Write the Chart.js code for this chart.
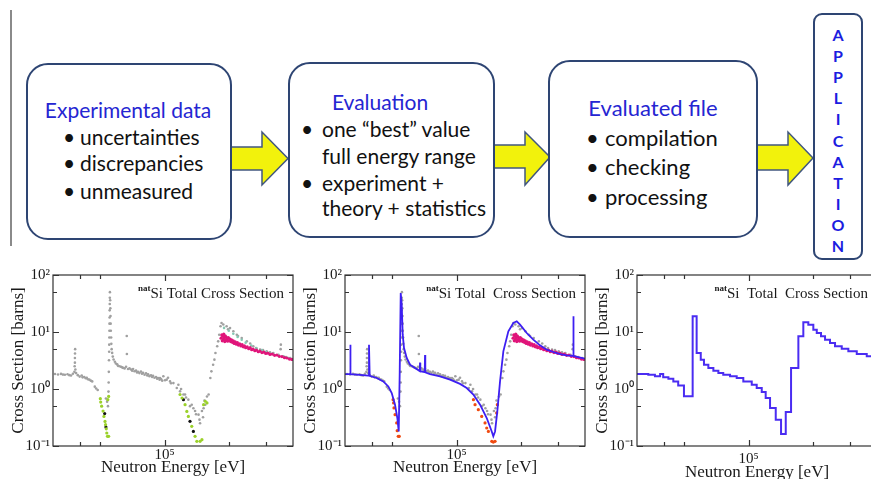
<!DOCTYPE html>
<html>
<head>
<meta charset="utf-8">
<script src="https://cdn.jsdelivr.net/npm/chart.js@4.4.0/dist/chart.umd.min.js"></script>
<style>
  body { margin: 0; width: 871px; height: 479px; overflow: hidden; background: #fff; position: relative; font-family: Lato, "Open Sans", sans-serif; }
  .box { position: absolute; box-sizing: border-box; border: 2.5px solid #2e4573; border-radius: 22px; background: #fff; }
  .t { position: absolute; white-space: nowrap; line-height: 26px; font-size: 21px; color: #111; }
  .h { color: #2525d2; }
  .big { font-size: 22px; }
  .app { position: absolute; left: 813px; top: 13px; width: 50px; height: 247px; box-sizing: border-box; border: 2.5px solid #2e4573; border-radius: 9px; background: #fff; }
  .letter { position: absolute; left: 813px; width: 50px; text-align: center; font-weight: bold; font-size: 16px; line-height: 18px; color: #1c1ce0; }
  canvas { position: absolute; }
</style>
</head>
<body>
<div style="position:absolute;left:10px;top:10px;width:2px;height:236px;background:#8a8a8a"></div>

<svg width="871" height="260" style="position:absolute;left:0;top:0">
  <g fill="#f2f20c" stroke="#41577f" stroke-width="1.5">
    <polygon points="228,147 262,147 262,132 288,158.5 262,185 262,170 228,170"/>
    <polygon points="491,145 525,145 525,132 550,157 525,185 525,168 491,168"/>
    <polygon points="754,145 788,145 788,132 813,158 788,185 788,170 754,170"/>
  </g>
</svg>

<div class="box" style="left:26px;top:63px;width:206px;height:177px"></div>
<div class="t h" style="left:28px;top:97px;width:200px;text-align:center">Experimental data</div>
<div class="t" style="left:63px;top:124px">•</div><div class="t" style="left:80px;top:124px">uncertainties</div>
<div class="t" style="left:63px;top:150px">•</div><div class="t" style="left:80px;top:150px">discrepancies</div>
<div class="t" style="left:63px;top:178px">•</div><div class="t" style="left:80px;top:178px">unmeasured</div>

<div class="box" style="left:288px;top:62px;width:207px;height:176px"></div>
<div class="t h" style="left:280px;top:89px;width:200px;text-align:center">Evaluation</div>
<div class="t" style="left:301px;top:116px">•</div><div class="t" style="left:322px;top:116px">one “best” value</div>
<div class="t" style="left:322px;top:143px">full energy range</div>
<div class="t" style="left:301px;top:170px">•</div><div class="t" style="left:322px;top:170px">experiment +</div>
<div class="t" style="left:322px;top:195px">theory + statistics</div>

<div class="box" style="left:548px;top:60px;width:210px;height:178px"></div>
<div class="t h big" style="left:553px;top:95px;width:200px;text-align:center">Evaluated file</div>
<div class="t big" style="left:586px;top:125px">•</div><div class="t big" style="left:605px;top:125px">compilation</div>
<div class="t big" style="left:586px;top:154px">•</div><div class="t big" style="left:605px;top:154px">checking</div>
<div class="t big" style="left:586px;top:184px">•</div><div class="t big" style="left:605px;top:184px">processing</div>

<div class="app"></div>
<div id="letters"></div>

<canvas id="c1" width="300" height="217" style="left:0;top:262px"></canvas>
<canvas id="c2" width="300" height="217" style="left:292px;top:262px"></canvas>
<div style="position:absolute;left:584px;top:262px;width:287px;height:217px;overflow:hidden">
  <canvas id="c3" width="300" height="222" style="left:0;top:0"></canvas>
</div>

<script>
// --- data (energies in eV, cross sections in barns) ---
const xMajor = [1e5];
const xLabels = ['10⁵'];
const xMinor = [4e4, 5e4, 2e5, 3e5];
const yMajor = [0.1, 1, 10, 100];
const yLabels = ['10⁻¹', '10⁰', '10¹', '10²'];
const yMinor = [0.5, 5, 50];

// measured total cross section (grey points)
const expE = [30650, 31670, 32700, 33400, 34100, 35100, 35800, 36450, 37200, 37800, 37900, 38000, 38000, 38050, 38100, 38200, 38500,
  39200, 40000, 40900, 41300, 42000, 42700, 43200, 43700, 44400, 45100, 45800, 47100, 47800, 48600, 53100, 53800, 54300,
  54600, 54700, 54800, 54900, 55000, 55050, 55100, 55150, 55200, 55250, 55300, 55350, 55400, 55450, 55600, 55700, 55800, 55900,
  56000, 56200, 56300, 56500, 56800, 57200, 57700, 58500, 59100, 60000, 60500, 61500, 62500, 63200, 63900, 65000, 66000, 66500,
  66600, 67400, 68500, 69600, 70500, 71200, 72300, 73500, 74300, 75100, 76200, 77500, 78400, 79300, 80600, 81900, 83000, 83700,
  85000, 86400, 87500, 88300, 89700, 91200, 92300, 93200, 94800, 95200, 96300, 97500, 98700, 100500, 102300, 103800, 106100,
  107200, 110000, 114100, 116100, 118200, 119500, 122600, 124800, 126100, 129300, 131600, 134100, 136500, 139000, 140500, 144300,
  145800, 146700, 149700, 151500, 152400, 153900, 155200, 158100, 160900, 163900, 165800, 168900, 171300, 173200, 176500, 178400,
  180400, 183000, 185000, 188500, 195400, 198400, 202700, 210100, 218100, 221000, 230000, 243000, 252000, 260600, 268400, 280300,
  289400, 301000, 312000, 323600, 341900, 350000, 350800, 360800, 371000, 388000, 399000];
const expXS = [1.83, 1.80, 1.84, 1.79, 1.78, 1.81, 1.75, 1.72, 1.85, 2.0, 2.5, 2.9, 3.5, 4.2, 5.0, 2.2, 1.9,
  1.75, 1.65, 1.72, 1.60, 1.62, 1.55, 1.58, 1.48, 1.46, 1.40, 1.36, 1.10, 1.02, 0.96, 0.68, 0.6, 0.5,
  0.9, 1.3, 2.0, 3.2, 4.5, 6.0, 8.0, 10.5, 14, 18, 24, 31, 40, 50, 36, 26, 19, 14,
  10.5, 8, 6.2, 5.0, 4.3, 3.7, 3.3, 3.0, 2.8, 2.7, 2.55, 2.5, 2.45, 2.4, 2.35, 2.3, 2.45, 8.5,
  4.1, 2.25, 2.3, 2.2, 2.1, 2.25, 2.05, 2.1, 1.95, 2.0, 1.9, 2.02, 1.85, 1.92, 1.78, 1.88, 1.72, 1.82,
  1.68, 1.74, 1.62, 1.7, 1.58, 1.62, 1.52, 1.55, 1.45, 1.56, 1.5, 1.4, 1.67, 1.42, 1.46, 1.58, 1.36,
  1.26, 1.27, 1.04, 1.19, 0.91, 1.0, 0.80, 0.80, 0.71, 0.65, 0.5, 0.53, 0.46, 0.41, 0.36, 0.355,
  0.29, 0.25, 0.41, 0.32, 0.46, 0.63, 0.53, 0.74, 0.80, 1.56, 2.04, 2.67, 3.27, 4.29, 5.61, 6.85,
  8.97, 12.6, 14.4, 13.5, 12.6, 11.2, 11.7, 10.3, 8.97, 8.5, 7.85, 6.85, 6.3, 5.61, 5.25, 4.90,
  4.8, 4.58, 4.4, 4.29, 3.98, 5.0, 6.0, 3.74, 3.63, 3.50, 3.3];

// magenta measurement above 180 keV
const magE = [184000, 185500, 186500, 187500, 188500, 189500, 190500, 191500, 192500, 193500, 194500, 196000, 197500, 199000,
  200500, 202000, 204000, 206000, 208000, 210000, 212000, 214500, 217000, 219500, 222000, 225000, 228000, 231000, 234000,
  237000, 240000, 244000, 248000, 252000, 256000, 260000, 265000, 270000, 275000, 280000, 286000, 292000, 298000, 305000,
  312000, 320000, 328000, 336000, 345000, 355000, 365000, 375000, 385000, 395000];
const magXS = [7.8, 8.9, 7.0, 8.4, 7.4, 9.2, 7.9, 6.8, 8.6, 7.2, 8.1, 7.5, 6.9, 8.0,
  7.1, 7.6, 6.8, 7.3, 6.6, 7.0, 6.3, 6.7, 6.1, 6.5, 5.9, 6.2, 5.7, 6.0, 5.5,
  5.7, 5.3, 5.5, 5.1, 5.3, 4.9, 5.0, 4.7, 4.8, 4.5, 4.6, 4.35, 4.45, 4.2, 4.25,
  4.05, 4.1, 3.9, 3.95, 3.75, 3.7, 3.55, 3.5, 3.35, 3.3];

// teal points along the upper edge (left panel)
const tealE = [190000, 200000, 210000, 220000, 230000, 240000, 255000, 270000, 285000, 300000, 320000, 340000, 360000, 380000, 400000];
const tealXS = [11.8, 10.5, 9.3, 8.2, 7.3, 6.5, 5.8, 5.2, 4.8, 4.45, 4.15, 3.9, 3.7, 3.5, 3.35];

// green / black points in the two minima (left panel)
const greenE = [50000, 50200, 50700, 51500, 52000, 52600, 52900, 53300, 53600, 54000, 54700, 54200, 54700,
  118200, 120800, 124800, 127200, 129300, 134100, 139000, 141700, 146700, 149700, 152400, 155200, 158100];
const greenXS = [0.676, 0.59, 0.50, 0.41, 0.33, 0.27, 0.237, 0.20, 0.169, 0.148, 0.148, 0.65, 0.74,
  0.80, 0.695, 0.53, 0.405, 0.33, 0.221, 0.148, 0.121, 0.121, 0.129, 0.53, 0.61, 0.57];
const blackE = [52400, 53100, 122600, 131600, 136500];
const blackXS = [0.37, 0.215, 0.65, 0.271, 0.18];

// orange points in the two minima (middle panel)
const orangeE = [50400, 50700, 50900, 51500, 52400, 52700, 53300, 53900,
  120000, 122100, 126500, 131200, 136000, 138500, 141000, 146200, 148700, 151500, 154200, 155300];
const orangeXS = [0.65, 0.57, 0.465, 0.355, 0.254, 0.186, 0.148, 0.148,
  0.65, 0.53, 0.434, 0.33, 0.254, 0.207, 0.18, 0.121, 0.117, 0.121, 0.38, 0.53];

// evaluated (pointwise) cross section, middle panel
const evalE = [30000, 31670, 31770, 31870, 34030, 38570, 38870, 39160, 42250, 45360, 47880, 49670, 51470, 52770, 53570, 54150,
  54740, 55330, 55930, 56720, 58410, 60520, 63880, 67200, 67420, 67640, 70920, 71150, 71380, 75080, 83680, 93230, 103800,
  111600, 119900, 128900, 138500, 146200, 148700, 151500, 155300, 159900, 165700, 174900, 184600, 191500, 198400, 213300,
  229000, 246200, 264600, 284300, 305600, 328500, 351600, 352700, 353900, 400000];
const evalXS = [1.83, 1.83, 5.98, 1.82, 1.78, 1.71, 5.98, 1.70, 1.56, 1.36, 1.11, 0.85, 0.53, 0.31, 0.18, 2.0,
  48.3, 30.1, 8.97, 5.24, 3.50, 2.67, 2.33, 2.06, 2.9, 2.05, 1.97, 3.94, 1.96, 1.83, 1.67, 1.46, 1.23,
  1.04, 0.80, 0.53, 0.31, 0.18, 0.148, 0.18, 0.41, 1.36, 4.58, 10.3, 14.4, 15.4, 13.5, 9.6,
  7.33, 5.83, 4.90, 4.46, 4.11, 3.90, 3.80, 18.8, 3.78, 3.40];

// group-wise cross section (lower group bounds), right panel
const groupE = [30000, 33900, 36400, 38500, 39800, 42100, 44400, 46800, 49800, 54700, 57100, 59700, 61800, 64800, 68400,
  72200, 76100, 81900, 88000, 94500, 103500, 109200, 115300, 120300, 126100, 134100, 142000, 149400, 158200, 171200,
  180600, 190600, 201200, 208800, 218600, 228300, 240900, 254300, 273400, 293600, 321500, 358100, 400000];
const groupXS = [1.83, 1.78, 1.67, 1.83, 1.60, 1.52, 1.36, 1.15, 0.745, 18.8, 4.29, 3.27, 2.67, 2.33, 2.10,
  1.91, 1.78, 1.67, 1.56, 1.35, 1.19, 1.04, 0.885, 0.695, 0.465, 0.289, 0.163, 0.394, 2.33, 8.39,
  14.8, 13.4, 11.0, 9.6, 8.4, 7.33, 6.41, 5.61, 5.1, 4.58, 4.11, 3.74, 3.74];

// --- drawing ---
const serif = '"Liberation Serif", "Times New Roman", serif';
const letters = 'APPLICATION';

let html = '';
for (let i = 0; i < letters.length; i++) {
  html += '<div class="letter" style="top:' + (26 + i * 21.1).toFixed(1) + 'px">' + letters[i] + '</div>';
}
document.getElementById('letters').innerHTML = html;

function pts(xs, ys) {
  return xs.map((x, i) => ({x: x, y: ys[i]}));
}

function dots(xs, ys, color, r) {
  return {data: pts(xs, ys), backgroundColor: color, borderWidth: 0, pointRadius: r, showLine: false};
}

function curve(xs, ys, color, w, stepped) {
  return {data: pts(xs, ys), borderColor: color, borderWidth: w, pointRadius: 0, showLine: true, stepped: stepped, tension: 0};
}

// box frame, inner tick marks and the title inside the plot
const frame = {
  id: 'frame',
  afterDatasetsDraw(chart, args, opts) {
    const ctx = chart.ctx, a = chart.chartArea, x = chart.scales.x, y = chart.scales.y;
    ctx.save();
    ctx.strokeStyle = '#333';
    ctx.lineWidth = 1.2;
    ctx.strokeRect(a.left, a.top, a.right - a.left, a.bottom - a.top);
    ctx.beginPath();
    xMajor.concat(xMinor).forEach(v => {
      const p = Math.round(x.getPixelForValue(v)) + 0.5;
      const len = xMajor.includes(v) ? 6 : 4;
      ctx.moveTo(p, a.bottom); ctx.lineTo(p, a.bottom - len);
      ctx.moveTo(p, a.top); ctx.lineTo(p, a.top + len);
    });
    yMajor.concat(yMinor).forEach(v => {
      const p = Math.round(y.getPixelForValue(v)) + 0.5;
      const len = yMajor.includes(v) ? 6 : 4;
      ctx.moveTo(a.left, p); ctx.lineTo(a.left + len, p);
      ctx.moveTo(a.right, p); ctx.lineTo(a.right - len, p);
    });
    ctx.stroke();

    ctx.fillStyle = '#1a1a1a';
    ctx.textAlign = 'right';
    ctx.textBaseline = 'alphabetic';
    ctx.font = '15px ' + serif;
    const rx = a.right - 9;
    ctx.fillText(opts.text, rx, a.top + 23);
    const w = ctx.measureText(opts.text).width;
    ctx.font = 'bold 9px ' + serif;
    ctx.fillText('nat', rx - w, a.top + 16);
    ctx.restore();
  }
};

function makeChart(id, datasets, label, xAxisH, xPad) {
  return new Chart(document.getElementById(id), {
    type: 'scatter',
    data: {datasets: datasets},
    options: {
      responsive: false,
      animation: false,
      devicePixelRatio: 1,
      layout: {padding: {top: 13, right: 7, left: 0, bottom: 0}},
      plugins: {legend: {display: false}, tooltip: {enabled: false}, frame: {text: label}},
      scales: {
        x: {
          type: 'logarithmic', min: 3e4, max: 4e5,
          grid: {display: false, drawTicks: false}, border: {display: false},
          afterBuildTicks: s => { s.ticks = xMajor.map(v => ({value: v})); },
          afterFit: s => { s.height = xAxisH; },
          ticks: {font: {family: serif, size: 15}, color: '#1a1a1a', padding: xPad, maxRotation: 0, autoSkip: false,
            callback: (v, i) => xLabels[i]},
          title: {display: true, text: 'Neutron Energy [eV]', color: '#1a1a1a', font: {family: serif, size: 17},
            padding: {top: 0, bottom: 1}}
        },
        y: {
          type: 'logarithmic', min: 0.1, max: 100,
          grid: {display: false, drawTicks: false}, border: {display: false},
          afterBuildTicks: s => { s.ticks = yMajor.map(v => ({value: v})); },
          afterFit: s => { s.width = 53; },
          ticks: {font: {family: serif, size: 15}, color: '#1a1a1a', padding: 3, autoSkip: false,
            callback: (v, i) => yLabels[i]},
          title: {display: true, text: 'Cross Section [barns]', color: '#1a1a1a', font: {family: serif, size: 17},
            padding: {top: 8, bottom: 0}}
        }
      }
    },
    plugins: [frame]
  });
}

makeChart('c1', [
  dots(greenE, greenXS, '#9bd12a', 1.6),
  dots(blackE, blackXS, '#111', 1.6),
  dots(magE, magXS, '#e0157a', 1.6),
  dots(tealE, tealXS, '#86c9b4', 1.3),
  dots(expE, expXS, '#a0a0a0', 1.3)
], 'Si Total Cross Section', 33, 0);

makeChart('c2', [
  curve(evalE, evalXS, '#3d1ff2', 1.8, false),
  dots(orangeE, orangeXS, '#f04a10', 1.6),
  dots(magE, magXS, '#e0157a', 1.6),
  dots(expE, expXS, '#a0a0a0', 1.3)
], 'Si Total  Cross Section', 33, 0);

makeChart('c3', [
  curve(groupE, groupXS, '#4a2cf2', 2, true)
], 'Si  Total  Cross Section', 38, 4);
</script>
</body>
</html>
